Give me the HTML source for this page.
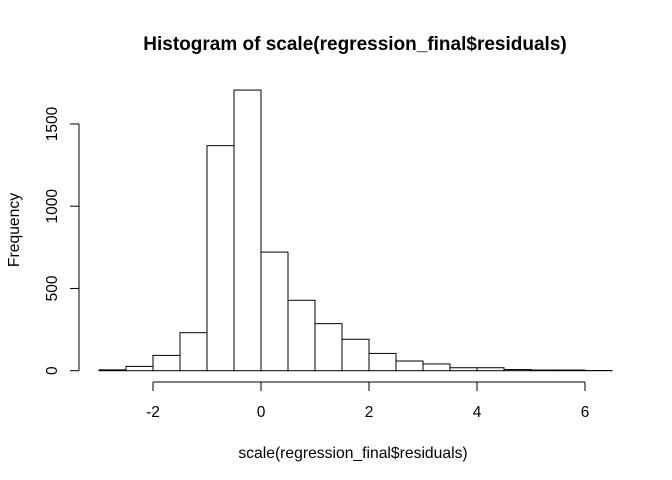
<!DOCTYPE html>
<html><head><meta charset="utf-8"><style>
body{margin:0;background:#fff}
svg{display:block;font-family:"Liberation Sans",Arial,sans-serif}
</style></head><body>
<svg id="chart" width="672" height="480" viewBox="0 0 672 480" xmlns="http://www.w3.org/2000/svg">
<text x="355" y="50" text-anchor="middle" font-size="19" font-weight="bold">Histogram of scale(regression_final$residuals)</text>
<text x="353" y="458" text-anchor="middle" font-size="15.7">scale(regression_final$residuals)</text>
<text x="19" y="230" text-anchor="middle" font-size="15.7" transform="rotate(-90 19 230)">Frequency</text>
<g id="bars"></g>
<g id="axes"></g>
</svg>
<script>
const binStarts = [-3,-2.5,-2,-1.5,-1,-0.5,0,0.5,1,1.5,2,2.5,3,3.5,4,4.5,5,5.5,6];
const counts = [5,26,93,231,1368,1706,721,428,286,191,105,59,41,18,18,7,4,4,1];
const binWidth = 0.5;
const xTicks = [-2,0,2,4,6];
const yTicks = [0,500,1000,1500];
const NS="http://www.w3.org/2000/svg";
function sx(v){return 261+v*54;}
function sy(v){return 370.7-v*0.1645;}
const bars=document.getElementById('bars');
binStarts.forEach((b,i)=>{
  const r=document.createElementNS(NS,'rect');
  const x0=sx(b),x1=sx(b+binWidth),y=sy(counts[i]);
  r.setAttribute('x',x0);r.setAttribute('y',y);
  r.setAttribute('width',x1-x0);r.setAttribute('height',sy(0)-y);
  r.setAttribute('fill','#fff');r.setAttribute('stroke','#000');r.setAttribute('stroke-width','1');
  
  
  bars.appendChild(r);
});
const axes=document.getElementById('axes');
function line(x1,y1,x2,y2,name){const l=document.createElementNS(NS,'line');
  l.setAttribute('x1',x1);l.setAttribute('y1',y1);l.setAttribute('x2',x2);l.setAttribute('y2',y2);
  l.setAttribute('stroke','#000');
  
  
  axes.appendChild(l);}
function text(x,y,s,rot,name){const t=document.createElementNS(NS,'text');
  t.setAttribute('x',x);t.setAttribute('y',y);t.setAttribute('text-anchor','middle');t.setAttribute('font-size','15.5');
  if(rot)t.setAttribute('transform','rotate(-90 '+x+' '+y+')');
  t.textContent=s;
  
  
  axes.appendChild(t);}
line(sx(xTicks[0]),382,sx(xTicks[xTicks.length-1]),382,'x-axis-line');
xTicks.forEach(v=>{line(sx(v),382,sx(v),391,'x-tick');text(sx(v),417,String(v),false,'x-tick-label');});
line(79,sy(yTicks[0]),79,sy(yTicks[yTicks.length-1]),'y-axis-line');
yTicks.forEach(v=>{line(70,sy(v),79,sy(v),'y-tick');text(57,sy(v),String(v),true,'y-tick-label');});
</script>
</body></html>
